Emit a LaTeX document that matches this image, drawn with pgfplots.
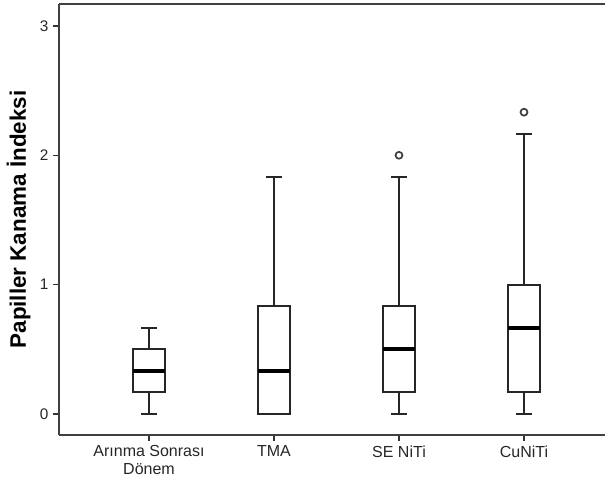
\documentclass[border=0pt]{standalone}
\usepackage{pgfplots}
\pgfplotsset{compat=1.18}
\usepgfplotslibrary{statistics}
\usetikzlibrary{calc}
\usepackage{fontspec}
\setmainfont{Liberation Sans}

\begin{document}
\begin{tikzpicture}
\begin{axis}[
  scale only axis,
  width=409.5pt, height=323.25pt,
  axis x line*=box, axis y line*=left,
  xtick pos=bottom,
  axis line style={line width=1.3pt, draw=black!75},
  tick style={line width=1.1pt, draw=black!80},
  tick align=outside,
  major tick length=4.5pt,
  xmin=0.28, xmax=4.648,
  ymin=-0.163, ymax=3.17,
  xtick={1,2,3,4},
  xticklabels={{Arınma Sonrası\\Dönem},TMA,SE NiTi,CuNiTi},
  xticklabel style={align=center, font=\fontsize{12}{13.5}\selectfont, text=black!85},
  ytick={0,1,2,3},
  yticklabel style={font=\fontsize{11.5}{12}\selectfont, text=black!85},
  /pgf/number format/assume math mode=true,
  ylabel={Papiller Kanama İndeksi},
  ylabel style={font=\bfseries\fontsize{16.8}{18}\selectfont},
  boxplot/draw direction=y,
  boxplot/box extend=0.25,
  boxplot/whisker extend=0.125,
  boxplot/every box/.style={line width=1.6pt, draw=black!85},
  boxplot/every whisker/.style={line width=1.4pt, draw=black!85},
  boxplot/every median/.style={line width=2.8pt, draw=black},
  every axis plot/.append style={line width=1.4pt},
]
\addplot[boxplot prepared={lower whisker=0, lower quartile=0.1667, median=0.3333,
  upper quartile=0.5, upper whisker=0.6667, draw position=1}] coordinates {};
\addplot[boxplot prepared={lower whisker=0, lower quartile=0, median=0.3333,
  upper quartile=0.8333, upper whisker=1.8333, draw position=2}] coordinates {};
\addplot[mark=o, mark size=2.6pt, mark options={line width=1.3pt, draw=black!75},
  boxplot prepared={lower whisker=0, lower quartile=0.1667, median=0.5,
  upper quartile=0.8333, upper whisker=1.8333, draw position=3}]
  table[row sep=\\, y index=0] {data\\ 2.0\\};
\addplot[mark=o, mark size=2.6pt, mark options={line width=1.3pt, draw=black!75},
  boxplot prepared={lower whisker=0, lower quartile=0.1667, median=0.6667,
  upper quartile=1.0, upper whisker=2.1667, draw position=4}]
  table[row sep=\\, y index=0] {data\\ 2.3333\\};
\coordinate (SW) at (rel axis cs:0,0);
\coordinate (NE) at (rel axis cs:1,1);
\end{axis}
\pgfresetboundingbox
\path ($(SW)+(-44.25pt,-37.5pt)$) rectangle ($(NE)+(0pt,3pt)$);
\end{tikzpicture}
\end{document}
